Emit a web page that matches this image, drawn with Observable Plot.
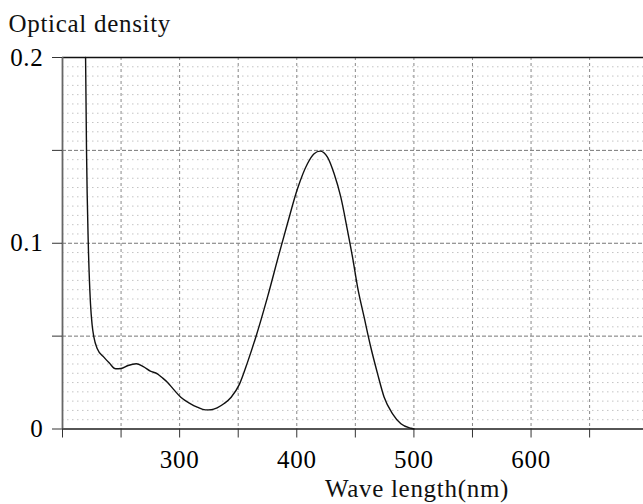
<!DOCTYPE html>
<html><head>
<meta charset="utf-8">
<script src="https://cdn.jsdelivr.net/npm/d3@7"></script>
<script src="https://cdn.jsdelivr.net/npm/@observablehq/plot@0.6"></script>
<style>
body{margin:0;background:#fff}
svg{font-family:"Liberation Serif","Times New Roman",serif}
svg text{letter-spacing:0.7px}
</style>
</head><body><div id="chart"></div>
<script>
const wavelength = [219.7, 220.5, 222, 223.9, 225.3, 226.8, 229.7, 235.3, 240, 245.3, 250, 256, 263, 269, 275, 281, 285, 289.5, 295, 301, 309, 315, 322, 327, 332, 338, 344, 351, 358, 365, 375, 384.9, 392, 400.6, 409.1, 414.8, 419.9, 426.2, 431.9, 437.6, 443.3, 447.6, 451.9, 457.5, 463.2, 469, 474.6, 481.8, 488.9, 497.4, 500];
const density = [0.2, 0.15, 0.1, 0.0674, 0.056, 0.0494, 0.0432, 0.0387, 0.0355, 0.0324, 0.0326, 0.0342, 0.0351, 0.0336, 0.0312, 0.0297, 0.0277, 0.0252, 0.0212, 0.0171, 0.0137, 0.0118, 0.0103, 0.0104, 0.0114, 0.0137, 0.0171, 0.024, 0.036, 0.0494, 0.071, 0.0943, 0.1105, 0.1293, 0.1428, 0.1482, 0.1496, 0.1464, 0.1374, 0.1248, 0.1069, 0.0925, 0.0764, 0.0602, 0.044, 0.0297, 0.0171, 0.0082, 0.0028, 0.0004, 0];
const xTicks = [200, 250, 300, 350, 400, 450, 500, 550, 600, 650];
const xLabels = [300, 400, 500, 600];
const yTicks = [0, 0.05, 0.1, 0.15, 0.2];
const yLabels = [0, 0.1, 0.2];
const vGrid = [250, 300, 350, 400, 450, 500, 550, 600, 650];
const hGrid = [0.05, 0.1, 0.15];
const minorGrid = d3.range(1, 40).filter(k => k % 10 !== 0).map(k => k * 0.005);
const title = "Optical density";
const xTitle = "Wave length(nm)";

const idx = wavelength.map((_, i) => i);

const chart = Plot.plot({
  width: 643,
  height: 504,
  marginLeft: 62,
  marginRight: 0,
  marginTop: 57,
  marginBottom: 75.5,
  x: {domain: [200, 696]},
  y: {domain: [0, 0.2]},
  marks: [
    Plot.ruleY(minorGrid, {stroke: "#c4c4c4", strokeDasharray: "1.5,3.5", strokeWidth: 1}),
    Plot.ruleY(hGrid, {stroke: "#777", strokeDasharray: "4,2", strokeWidth: 1}),
    Plot.ruleX(vGrid, {stroke: "#888", strokeDasharray: "3,3", strokeWidth: 1}),
    Plot.ruleY([0.2], {stroke: "#111", strokeWidth: 1.5}),
    Plot.ruleY([0], {stroke: "#555", strokeWidth: 1.8}),
    Plot.ruleX([200], {stroke: "#666", strokeWidth: 1.8}),
    Plot.axisX(xTicks, {
      tickSize: 9, tickPadding: 12.5, fontSize: 25, stroke: "#333",
      tickFormat: d => xLabels.includes(d) ? String(d) : "", label: null
    }),
    Plot.axisY(yTicks, {
      tickSize: 10, tickPadding: 9, fontSize: 25, stroke: "#333",
      tickFormat: d => yLabels.includes(d) ? (d === 0 ? "0" : String(d)) : "", label: null
    }),
    Plot.line(idx, {x: i => wavelength[i], y: i => density[i], curve: "monotone-x", stroke: "#111", strokeWidth: 1.4}),
    Plot.text([title], {frameAnchor: "top-left", textAnchor: "start", lineAnchor: "bottom", dx: -54, dy: -25.5, fontSize: 25, fill: "#111"}),
    Plot.text([xTitle], {frameAnchor: "bottom", textAnchor: "middle", lineAnchor: "bottom", dx: 64, dy: 67.5, fontSize: 25, fill: "#111"})
  ]
});
document.getElementById("chart").appendChild(chart);
</script>
</body></html>
